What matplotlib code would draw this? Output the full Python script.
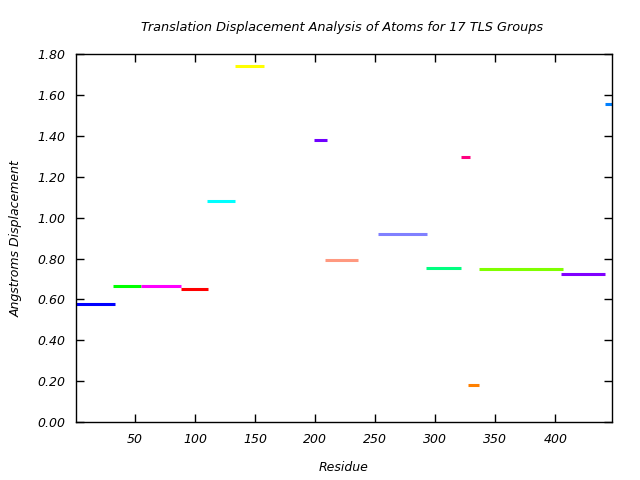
import numpy as np
import matplotlib.pyplot as plt

# segmentos TLS: residuo inicial, final y desplazamiento
inicios = [1, 32, 55, 88, 110, 133, 199, 208, 252, 292, 321, 327, 336, 405, 441]
finales = [33, 55, 88, 111, 133, 157, 210, 236, 293, 321, 329, 336, 406, 441, 447]
desplazamientos = [0.575, 0.665, 0.665, 0.650, 1.080, 1.740, 1.378, 0.791, 0.918,
                   0.752, 1.295, 0.179, 0.747, 0.722, 1.555]
colores = ['#0000ff', '#00ff00', '#ff00ff', '#ff0000', '#00ffff', '#ffff00', '#7000ff',
           '#ff9980', '#8080ff', '#00ff80', '#ff0080', '#ff8000', '#80ff00', '#8000ff', '#0080ff']

xticks = [50, 100, 150, 200, 250, 300, 350, 400]
yticks = np.arange(0, 1.81, 0.2)

fig = plt.figure(figsize=(6.4, 4.8), dpi=100)
ax = fig.add_axes([0.119, 0.121, 0.837, 0.766])

for x0, x1, y, c in zip(inicios, finales, desplazamientos, colores):
    ax.plot([x0, x1], [y, y], color=c, linewidth=2.2, solid_capstyle='butt')

ax.set_xlim(1, 447)
ax.set_ylim(0, 1.8)
ax.set_xticks(xticks)
ax.set_yticks(yticks)
ax.set_yticklabels(['%.2f' % v for v in yticks])
ax.tick_params(direction='in', length=6, width=1, top=True, right=True, labelsize=9, pad=8)
for lbl in ax.get_xticklabels() + ax.get_yticklabels():
    lbl.set_fontstyle('italic')
for s in ax.spines.values():
    s.set_linewidth(1)

fig.text(0.535, 0.942, 'Translation Displacement Analysis of Atoms for 17 TLS Groups',
         ha='center', va='center', fontsize=9.3, style='italic')
ax.set_xlabel('Residue', fontsize=9, style='italic', labelpad=11)
ax.set_ylabel('Angstroms Displacement', fontsize=9, style='italic', labelpad=10)

fig.savefig('out.png', dpi=100)
